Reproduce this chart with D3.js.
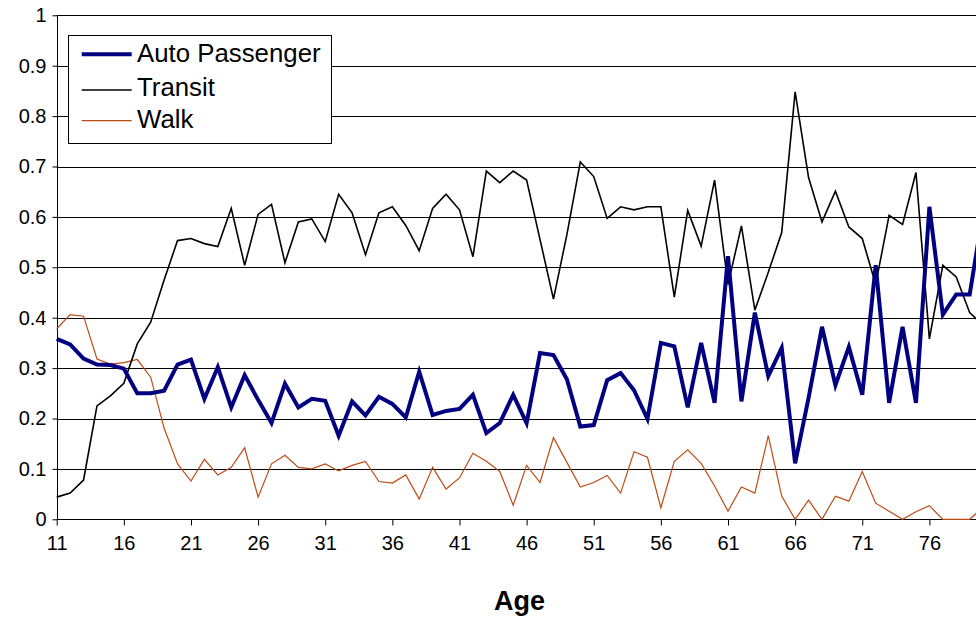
<!DOCTYPE html>
<html>
<head>
<meta charset="utf-8">
<script src="https://cdn.jsdelivr.net/npm/d3@7"></script>
<style>
  html, body { margin: 0; padding: 0; background: #fff; }
  svg { display: block; font-family: "Liberation Sans", Arial, sans-serif; }
</style>
</head>
<body>
<svg id="chart" width="976" height="619"></svg>
<script>
const ages = d3.range(11, 81);
const xTickLabels = [11, 16, 21, 26, 31, 36, 41, 46, 51, 56, 61, 66, 71, 76];
const yTicks = [0, 0.1, 0.2, 0.3, 0.4, 0.5, 0.6, 0.7, 0.8, 0.9, 1];
const seriesNames = ["Auto Passenger", "Transit", "Walk"];

const autoPassenger = [0.358, 0.347, 0.319, 0.307, 0.306, 0.299, 0.250, 0.250, 0.255, 0.307,
  0.317, 0.239, 0.302, 0.222, 0.286, 0.237, 0.191, 0.269, 0.222, 0.239,
  0.235, 0.166, 0.234, 0.206, 0.243, 0.229, 0.202, 0.293, 0.207, 0.215,
  0.219, 0.247, 0.171, 0.191, 0.247, 0.191, 0.330, 0.326, 0.278, 0.184,
  0.187, 0.276, 0.290, 0.256, 0.199, 0.350, 0.343, 0.222, 0.350, 0.231,
  0.522, 0.234, 0.410, 0.284, 0.340, 0.111, 0.241, 0.382, 0.266, 0.342,
  0.247, 0.504, 0.231, 0.382, 0.231, 0.620, 0.406, 0.446, 0.446, 0.610];

const transit = [0.044, 0.052, 0.078, 0.225, 0.245, 0.270, 0.348, 0.391, 0.475, 0.553,
  0.557, 0.547, 0.541, 0.617, 0.504, 0.605, 0.625, 0.509, 0.590, 0.596,
  0.551, 0.645, 0.608, 0.525, 0.608, 0.620, 0.583, 0.533, 0.617, 0.645,
  0.614, 0.521, 0.691, 0.668, 0.691, 0.673, 0.555, 0.437, 0.565, 0.709,
  0.680, 0.597, 0.620, 0.614, 0.620, 0.620, 0.441, 0.613, 0.542, 0.673,
  0.466, 0.582, 0.415, 0.490, 0.569, 0.848, 0.678, 0.590, 0.651, 0.580,
  0.557, 0.466, 0.603, 0.585, 0.688, 0.358, 0.504, 0.481, 0.410, 0.385];

const walk = [0.378, 0.406, 0.403, 0.318, 0.308, 0.311, 0.317, 0.282, 0.181, 0.110,
  0.076, 0.119, 0.088, 0.103, 0.142, 0.044, 0.110, 0.127, 0.103, 0.100,
  0.110, 0.096, 0.107, 0.115, 0.075, 0.072, 0.088, 0.040, 0.103, 0.060,
  0.082, 0.131, 0.115, 0.095, 0.028, 0.107, 0.073, 0.162, 0.113, 0.064,
  0.073, 0.087, 0.052, 0.134, 0.123, 0.023, 0.115, 0.138, 0.111, 0.066,
  0.016, 0.064, 0.052, 0.166, 0.046, 0.000, 0.038, 0.000, 0.046, 0.036,
  0.095, 0.032, 0.016, 0.000, 0.015, 0.027, 0.000, 0.000, 0.000, 0.024];

const svg = d3.select("#chart");
const x = d3.scaleLinear().domain([11, 80]).range([56.7, 983.1]);
const y = d3.scaleLinear().domain([0, 1]).range([519.3, 15.3]);

// gridlines
svg.append("g").selectAll("line").data(yTicks.filter(d => d > 0)).join("line")
  .attr("x1", x(11)).attr("x2", 990)
  .attr("y1", d => Math.round(y(d)) + 0.5).attr("y2", d => Math.round(y(d)) + 0.5)
  .attr("stroke", "#000").attr("stroke-width", 1);

// y axis
const yAxis = svg.append("g").attr("transform", `translate(${Math.round(x(11)) + 0.5},0)`)
  .call(d3.axisLeft(y).tickValues(yTicks).tickSize(5).tickPadding(6)
    .tickFormat(d => d === 0 ? "0" : d === 1 ? "1" : d3.format(".1f")(d)));
yAxis.selectAll("text").attr("font-size", 20).attr("fill", "#000")
  .attr("font-family", "Liberation Sans, Arial, sans-serif");
yAxis.selectAll("line,path").attr("stroke", "#000");
yAxis.select(".domain").attr("d", `M0,${Math.round(y(1))}V${Math.round(y(0))}`);

// x axis
const xAxis = svg.append("g").attr("transform", `translate(0,${Math.round(y(0)) + 0.5})`)
  .call(d3.axisBottom(x).tickValues(xTickLabels).tickSize(6).tickPadding(10).tickFormat(d3.format("d")));
xAxis.selectAll("text").attr("font-size", 20).attr("fill", "#000")
  .attr("font-family", "Liberation Sans, Arial, sans-serif");
xAxis.selectAll("line,path").attr("stroke", "#000");
xAxis.select(".domain").attr("d", `M${x(11)},0H990`);

const line = d3.line().x((d, i) => x(ages[i])).y(d => y(d));

svg.append("path").datum(walk).attr("d", line)
  .attr("fill", "none").attr("stroke", "#BE4B14").attr("stroke-width", 1.2);
svg.append("path").datum(transit).attr("d", line)
  .attr("fill", "none").attr("stroke", "#000").attr("stroke-width", 1.6);
svg.append("path").datum(autoPassenger).attr("d", line)
  .attr("fill", "none").attr("stroke", "#000080").attr("stroke-width", 4).attr("stroke-linejoin", "miter");

// axis title
svg.append("text").attr("x", 519.5).attr("y", 610).attr("text-anchor", "middle")
  .attr("font-size", 27).attr("font-weight", "bold").attr("fill", "#000").text("Age");

// legend
const lg = svg.append("g");
lg.append("rect").attr("x", 68.5).attr("y", 35.5).attr("width", 263).attr("height", 108)
  .attr("fill", "#fff").attr("stroke", "#000").attr("stroke-width", 1);
const legendItems = [
  { name: seriesNames[0], color: "#000080", w: 4, ly: 54.3, ty: 61.7 },
  { name: seriesNames[1], color: "#000", w: 1.6, ly: 90, ty: 96 },
  { name: seriesNames[2], color: "#BE4B14", w: 1.2, ly: 120.7, ty: 128.3 }
];
legendItems.forEach(it => {
  lg.append("line").attr("x1", 81.7).attr("x2", 131.7).attr("y1", it.ly).attr("y2", it.ly)
    .attr("stroke", it.color).attr("stroke-width", it.w);
  lg.append("text").attr("x", 137).attr("y", it.ty).attr("font-size", 25.8).attr("fill", "#000").text(it.name);
});
</script>
</body>
</html>
